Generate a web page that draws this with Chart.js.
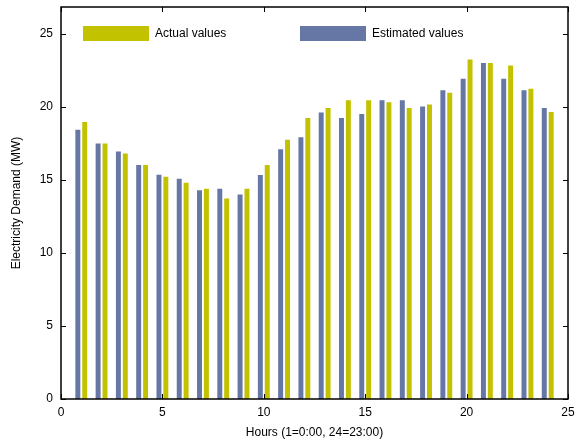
<!DOCTYPE html>
<html>
<head>
<meta charset="utf-8">
<script src="https://cdn.jsdelivr.net/npm/chart.js@4.4.1/dist/chart.umd.min.js"></script>
<style>
  html, body { margin: 0; padding: 0; background: #fff; }
  #wrap { width: 581px; height: 443px; }
</style>
</head>
<body>
<div id="wrap"><canvas id="c" width="581" height="443"></canvas></div>
<script>
const hours = [1,2,3,4,5,6,7,8,9,10,11,12,13,14,15,16,17,18,19,20,21,22,23,24];
const estimatedValues = [18.45,17.5,16.96,16.03,15.36,15.09,14.29,14.4,14.01,15.34,17.1,17.92,
                         19.63,19.25,19.52,20.46,20.46,20.04,21.14,21.94,23.01,21.94,21.14,19.93];
const actualValues =    [18.97,17.5,16.82,16.03,15.23,14.82,14.4,13.74,14.4,16.03,17.76,19.25,
                         19.93,20.46,20.46,20.32,19.93,20.18,20.98,23.26,23.01,22.85,21.25,19.66];
const xTicks = [0,5,10,15,20,25];
const yTicks = [0,5,10,15,20,25];
const seriesNames = ['Estimated values', 'Actual values'];
const xTitle = 'Hours (1=0:00, 24=23:00)';
const yTitle = 'Electricity Demand (MW)';

const BLUE = '#6677a6';
const YELLOW = '#c2c200';
const FONT = "'Liberation Sans', Arial, sans-serif";

const boxPlugin = {
  id: 'boxTicks',
  afterDraw(chart) {
    const ctx = chart.ctx, a = chart.chartArea;
    const xs = chart.scales.x, ys = chart.scales.y;
    ctx.save();
    ctx.strokeStyle = '#000';
    ctx.lineWidth = 1.5;
    ctx.strokeRect(a.left, a.top, a.right - a.left, a.bottom - a.top);
    ctx.lineWidth = 1;
    const tl = 5;
    ctx.beginPath();
    xTicks.forEach(v => {
      const px = Math.round(xs.getPixelForValue(v)) + 0.5;
      ctx.moveTo(px, a.bottom); ctx.lineTo(px, a.bottom - tl);
      ctx.moveTo(px, a.top); ctx.lineTo(px, a.top + tl);
    });
    yTicks.forEach(v => {
      const py = Math.round(ys.getPixelForValue(v)) + 0.5;
      ctx.moveTo(a.left, py); ctx.lineTo(a.left + tl, py);
      ctx.moveTo(a.right, py); ctx.lineTo(a.right - tl, py);
    });
    ctx.stroke();
    // legend inside plot area
    const items = [
      { text: seriesNames[1], color: YELLOW, dx: 22 },
      { text: seriesNames[0], color: BLUE, dx: 239 }
    ];
    ctx.font = '12px ' + FONT;
    ctx.textBaseline = 'middle';
    items.forEach(it => {
      const x = a.left + it.dx, y = a.top + 19;
      ctx.fillStyle = it.color;
      ctx.fillRect(x, y, 66, 15);
      ctx.fillStyle = '#000';
      ctx.textAlign = 'left';
      ctx.fillText(it.text, x + 72, y + 8);
    });
    ctx.restore();
  }
};

new Chart(document.getElementById('c'), {
  type: 'bar',
  data: {
    datasets: [
      { label: seriesNames[0], data: hours.map((h, i) => ({ x: h, y: estimatedValues[i] })),
        backgroundColor: BLUE, borderWidth: 0, categoryPercentage: 0.68, barPercentage: 0.72 },
      { label: seriesNames[1], data: hours.map((h, i) => ({ x: h, y: actualValues[i] })),
        backgroundColor: YELLOW, borderWidth: 0, categoryPercentage: 0.68, barPercentage: 0.72 }
    ]
  },
  options: {
    responsive: false,
    animation: false,
    layout: { padding: { left: 0, right: 13, top: 7, bottom: 0 } },
    plugins: { legend: { display: false }, tooltip: { enabled: false } },
    scales: {
      x: {
        type: 'linear', min: 0, max: 25, offset: false,
        grid: { display: false, drawTicks: false }, border: { display: false },
        afterBuildTicks: s => { s.ticks = xTicks.map(v => ({ value: v })); },
        afterFit: s => { s.height = 44; s.paddingLeft = 0; s.paddingRight = 0; },
        ticks: { color: '#000', font: { family: FONT, size: 12 }, padding: 6, maxRotation: 0 },
        title: { display: true, text: xTitle, color: '#000', font: { family: FONT, size: 12 },
                 padding: { top: 0, bottom: 3 } }
      },
      y: {
        type: 'linear', min: 0, max: 26.85,
        grid: { display: false, drawTicks: false }, border: { display: false },
        afterBuildTicks: s => { s.ticks = yTicks.map(v => ({ value: v })); },
        afterFit: s => { s.width = 61; s.paddingTop = 0; s.paddingBottom = 0; },
        ticks: { color: '#000', font: { family: FONT, size: 12 }, padding: 8 },
        title: { display: true, text: yTitle, color: '#000', font: { family: FONT, size: 12 },
                 padding: { top: 9, bottom: 0 } }
      }
    }
  },
  plugins: [boxPlugin]
});
</script>
</body>
</html>
